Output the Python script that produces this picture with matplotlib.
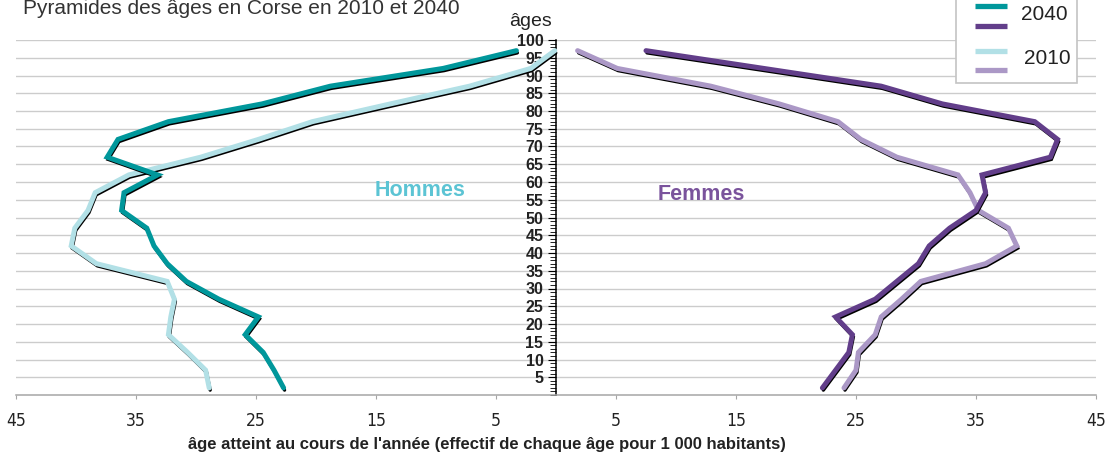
import matplotlib
matplotlib.use('Agg')
import matplotlib.pyplot as plt
import matplotlib.patheffects as pe
from matplotlib.ticker import MultipleLocator, FixedLocator, FuncFormatter
from matplotlib.patches import Rectangle
from matplotlib.lines import Line2D

# ---------------- data ----------------
ages = [2, 7, 12, 17, 22, 27, 32, 37, 42, 47, 52, 57, 62, 67, 72, 77, 82, 87, 92, 97]
hommes_2040 = [22.7, 23.5, 24.4, 25.9, 24.8, 28.1, 30.8, 32.4, 33.5, 34.1,
               36.2, 36.0, 33.2, 37.4, 36.5, 32.3, 24.5, 18.8, 9.4, 3.3]
hommes_2010 = [28.9, 29.2, 30.7, 32.3, 32.1, 31.8, 32.4, 38.3, 40.4, 40.1,
               39.0, 38.4, 35.6, 29.6, 24.8, 20.3, 13.8, 7.2, 2.1, 0.1]
femmes_2040 = [22.2, 23.3, 24.4, 24.7, 23.3, 26.6, 28.4, 30.2, 31.1, 32.8,
               35.0, 35.8, 35.5, 41.2, 41.8, 39.9, 32.2, 27.1, 17.3, 7.5]
femmes_2010 = [24.0, 25.0, 25.2, 26.6, 27.1, 28.8, 30.4, 35.8, 38.4, 37.7,
               35.2, 34.5, 33.5, 28.4, 25.4, 23.5, 18.6, 12.9, 5.1, 1.8]
x_ticks = [-45, -35, -25, -15, -5, 5, 15, 25, 35, 45]
y_major = list(range(5, 101, 5))

title = "Pyramides des âges en Corse en 2010 et 2040"
xlabel = "âge atteint au cours de l'année (effectif de chaque âge pour 1 000 habitants)"

c_h40 = '#00979b'
c_h10 = '#b2e0e6'
c_f40 = '#623e8a'
c_f10 = '#ab98c6'

plt.rcParams['font.family'] = ['Liberation Sans', 'DejaVu Sans']

W, H = 1106, 457
fig = plt.figure(figsize=(W / 100, H / 100), dpi=100)
ax = fig.add_axes([16 / W, 62 / H, 1080 / W, 355 / H])
ax.set_xlim(-45, 45)
ax.set_ylim(0, 100)

shadow = [pe.SimpleLineShadow(offset=(0.7, -1.6), shadow_color='black', alpha=1.0, linewidth=2.4),
          pe.Normal()]
kw = dict(lw=3.6, solid_capstyle='round', solid_joinstyle='miter', path_effects=shadow)
ax.plot([-v for v in hommes_2010], ages, color=c_h10, zorder=3, **kw)
ax.plot([-v for v in hommes_2040], ages, color=c_h40, zorder=4, **kw)
ax.plot(femmes_2010, ages, color=c_f10, zorder=3, **kw)
ax.plot(femmes_2040, ages, color=c_f40, zorder=4, **kw)

# axes styling
for s in ['top', 'right']:
    ax.spines[s].set_visible(False)
ax.spines['left'].set_position(('data', 0))
ax.spines['left'].set_color('black')
ax.spines['left'].set_linewidth(1.1)
ax.spines['bottom'].set_color('#a6a6a6')
ax.spines['bottom'].set_linewidth(1.1)

ax.yaxis.set_major_locator(FixedLocator(y_major))
ax.yaxis.set_minor_locator(MultipleLocator(1))
ax.yaxis.set_major_formatter(FuncFormatter(lambda v, p: f"{int(v)}"))
ax.tick_params(axis='y', which='major', direction='out', length=6, width=0.8,
               color='black', pad=3, labelsize=11.5, labelcolor='#222222')
ax.tick_params(axis='y', which='minor', direction='out', length=4, width=0.6, color='black')
for lab in ax.get_yticklabels():
    lab.set_fontweight('bold')

ax.xaxis.set_major_locator(FixedLocator(x_ticks))
ax.xaxis.set_major_formatter(FuncFormatter(lambda v, p: f"{abs(int(v))}"))
ax.tick_params(axis='x', direction='out', length=3, width=0.8, color='#a6a6a6',
               pad=9, labelsize=12.5, labelcolor='#222222')
for lab in ax.get_xticklabels():
    lab.set_family(['DejaVu Sans'])
    lab.set_stretch('condensed')

ax.yaxis.grid(True, which='major', color='#cccccc', lw=1.0)
ax.set_axisbelow(True)

# texts
ax.text(-11.3, 57.5, "Hommes", color='#5cc4d4', fontsize=15.5, fontweight='bold',
        ha='center', va='center')
ax.text(12.1, 56.5, "Femmes", color='#7a539c', fontsize=15.5, fontweight='bold',
        ha='center', va='center')
fig.text(531 / W, 1 - 22 / H, "âges", fontsize=14, color='#222222', ha='center', va='center')
fig.text(23 / W, 1 - 14 / H, title, fontsize=15, color='#333333', ha='left', va='baseline')
fig.text(487 / W, 1 - 445 / H, xlabel, fontsize=12, fontweight='bold', color='#222222',
         ha='center', va='center')

# legend box (manual)
fig.patches.append(Rectangle((956 / W, 1 - 83 / H), 121 / W, 0.3, transform=fig.transFigure,
                             facecolor='white', edgecolor='#c4c4c4', lw=1.2, zorder=10))
for yy, cc in [(6, c_h40), (26, c_f40), (51, c_h10), (70, c_f10)]:
    fig.lines.append(Line2D([975 / W, 1007 / W], [1 - yy / H] * 2, transform=fig.transFigure,
                            color=cc, lw=3.8, solid_capstyle='butt', zorder=11))
fig.text(1044 / W, 1 - 15 / H, "2040", fontsize=15, color='#222222', ha='center', va='center', zorder=12)
fig.text(1047 / W, 1 - 59 / H, "2010", fontsize=15, color='#222222', ha='center', va='center', zorder=12)

fig.savefig('out.png', dpi=100)
